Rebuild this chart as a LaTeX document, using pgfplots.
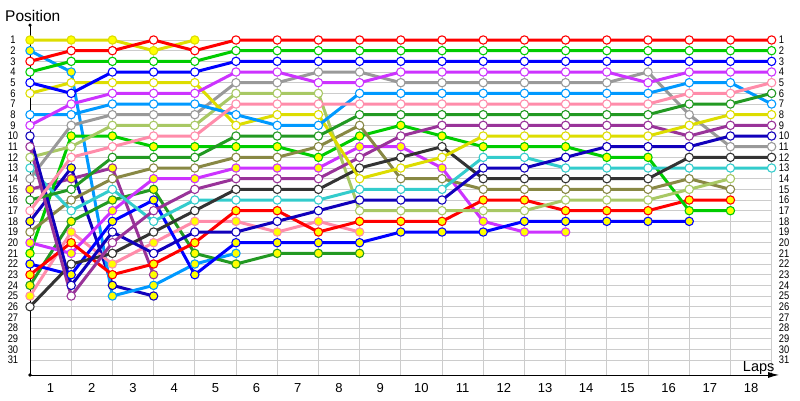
\documentclass[border=0pt]{standalone}
\usepackage{pgfplots}
\pgfplotsset{compat=1.18}
\usepackage{fontspec}
\setmainfont{Liberation Sans}
\newfontfamily\narrowfont[FakeStretch=0.85]{Liberation Sans}
\usetikzlibrary{arrows.meta}

\definecolor{cRed}{HTML}{FF0000}
\definecolor{cGreen}{HTML}{00CC00}
\definecolor{cBlue}{HTML}{0000FF}
\definecolor{cViolet}{HTML}{CC33FF}
\definecolor{cGray}{HTML}{999999}
\definecolor{cLGreen}{HTML}{A8C864}
\definecolor{cPink}{HTML}{FF8CAA}
\definecolor{cLBlue}{HTML}{0099FF}
\definecolor{cYellow}{HTML}{DDDD00}
\definecolor{cDGreen}{HTML}{229922}
\definecolor{cPurple}{HTML}{993399}
\definecolor{cOlive}{HTML}{888844}
\definecolor{cDGray}{HTML}{333333}
\definecolor{cCyan}{HTML}{33CCCC}
\definecolor{cDBlue}{HTML}{1100BB}
\definecolor{cGrid}{HTML}{CCCCCC}
\definecolor{cFill}{HTML}{FFFF00}

\pgfplotsset{
  drv/.style={color=#1, line width=3pt, line join=round, mark=*, mark size=4.2pt,
    mark options={line width=1.1pt, fill=white}},
  drvy/.style={color=#1, line width=3pt, line join=round, mark=*, mark size=4.2pt,
    mark options={line width=1.1pt, fill=cFill}},
}

\begin{document}
\begin{tikzpicture}
\begin{axis}[
  x=41.2pt, y=10.667pt, y dir=reverse,
  xmin=0, xmax=18.18, ymin=-0.4, ymax=32.4,
  axis line style={draw=none},
  major tick length=0pt,
  clip=false,
  ytick={1,...,31},
  /pgf/number format/assume math mode=true,
  yticklabel style={font=\narrowfont\fontsize{11}{11}\selectfont, anchor=center, xshift=-17pt},
  xtick={0.5,1.5,2.5,3.5,4.5,5.5,6.5,7.5,8.5,9.5,10.5,11.5,12.5,13.5,14.5,15.5,16.5,17.5},
  xticklabels={1,2,3,4,5,6,7,8,9,10,11,12,13,14,15,16,17,18},
  xticklabel style={font=\fontsize{13}{13}\selectfont, anchor=center, yshift=-13pt},
]
% grid
\pgfplotsinvokeforeach{1,...,31}{
  \draw[cGrid, line width=0.9pt] (axis cs:0,#1) -- (axis cs:18,#1);
  \node[anchor=west, inner sep=0pt, font=\narrowfont\fontsize{11}{11}\selectfont] at (axis cs:18.17,#1) {#1};
}
\pgfplotsinvokeforeach{1,...,18}{
  \draw[cGrid, line width=0.9pt] (axis cs:#1,1) -- (axis cs:#1,32.4);
}
% axes
\draw[black, line width=0.9pt] (axis cs:0,-0.4) -- (axis cs:0,32.4);
\draw[black, line width=0.9pt, -{Latex[length=11pt, width=6pt]}] (axis cs:0,32.4) -- (axis cs:18.18,32.4);
\fill[black] (axis cs:0,-0.4) circle (1.8pt);
\fill[black] (axis cs:0,32.4) circle (1.8pt);
\node[anchor=base west, inner sep=0pt, font=\fontsize{15.5}{15.5}\selectfont] at (axis cs:-0.607,-0.78) {Position};
\node[anchor=base west, inner sep=0pt, font=\fontsize{14.5}{14.5}\selectfont] at (axis cs:17.3,32.1) {Laps};

% drivers
\addplot[drvy=cPurple] coordinates {(0,15)(1,14)(2,13)(3,23)};
\addplot[drvy=cDBlue] coordinates {(0,18)(1,13)(2,24)(3,25)};
\addplot[drvy=cLBlue] coordinates {(0,2)(1,4)(2,25)(3,24)(4,22)(5,21)};
\addplot[drvy=cDGreen] coordinates {(0,24)(1,18)(2,16)(3,15)(4,21)(5,22)(6,21)(7,21)(8,21)};
\addplot[drvy=cPink] coordinates {(0,25)(1,19)(2,22)(3,20)(4,18)(5,18)(6,19)(7,18)(8,19)};
\addplot[drvy=cViolet] coordinates {(0,20)(1,21)(2,17)(3,14)(4,14)(5,13)(6,13)(7,13)(8,11)(9,11)(10,13)(11,18)(12,19)(13,19)};
\addplot[drvy=cBlue] coordinates {(0,22)(1,23)(2,18)(3,16)(4,23)(5,20)(6,20)(7,20)(8,20)(9,19)(10,19)(11,19)(12,18)(13,18)(14,18)(15,18)(16,18)};
\addplot[drvy=cRed] coordinates {(0,23)(1,20)(2,23)(3,22)(4,20)(5,17)(6,17)(7,19)(8,18)(9,18)(10,18)(11,16)(12,16)(13,17)(14,17)(15,17)(16,16)(17,16)};
\addplot[drvy=cGreen] coordinates {(0,21)(1,10)(2,10)(3,11)(4,11)(5,11)(6,11)(7,12)(8,10)(9,9)(10,10)(11,11)(12,11)(13,11)(14,12)(15,12)(16,17)(17,17)};
\addplot[drv=cOlive] coordinates {(0,19)(1,16)(2,14)(3,13)(4,13)(5,12)(6,12)(7,11)(8,9)(9,14)(10,14)(11,15)(12,15)(13,15)(14,15)(15,15)(16,14)(17,15)};
\addplot[drv=cLGreen] coordinates {(0,12)(1,11)(2,9)(3,9)(4,9)(5,6)(6,6)(7,6)(8,17)(9,17)(10,17)(11,17)(12,17)(13,16)(14,16)(15,16)(16,15)(17,14)};
\addplot[drv=cCyan] coordinates {(0,13)(1,17)(2,15)(3,18)(4,16)(5,16)(6,16)(7,16)(8,15)(9,15)(10,15)(11,12)(12,12)(13,13)(14,13)(15,13)(16,13)(17,13)(18,13)};
\addplot[drv=cDGray] coordinates {(0,26)(1,22)(2,21)(3,19)(4,17)(5,15)(6,15)(7,15)(8,13)(9,12)(10,11)(11,14)(12,14)(13,14)(14,14)(15,14)(16,12)(17,12)(18,12)};
\addplot[drv=cGray] coordinates {(0,14)(1,9)(2,8)(3,8)(4,8)(5,5)(6,5)(7,4)(8,4)(9,5)(10,5)(11,5)(12,5)(13,5)(14,5)(15,4)(16,8)(17,11)(18,11)};
\addplot[drv=cDBlue] coordinates {(0,10)(1,24)(2,19)(3,21)(4,19)(5,19)(6,18)(7,17)(8,16)(9,16)(10,16)(11,13)(12,13)(13,12)(14,11)(15,11)(16,11)(17,10)(18,10)};
\addplot[drv=cPurple] coordinates {(0,11)(1,25)(2,20)(3,17)(4,15)(5,14)(6,14)(7,14)(8,12)(9,10)(10,9)(11,9)(12,9)(13,9)(14,9)(15,9)(16,10)(17,9)(18,9)};
\addplot[drv=cYellow] coordinates {(0,6)(1,5)(2,5)(3,5)(4,5)(5,9)(6,8)(7,8)(8,14)(9,13)(10,12)(11,10)(12,10)(13,10)(14,10)(15,10)(16,9)(17,8)(18,8)};
\addplot[drv=cLBlue] coordinates {(0,8)(1,8)(2,7)(3,7)(4,7)(5,8)(6,9)(7,9)(8,6)(9,6)(10,6)(11,6)(12,6)(13,6)(14,6)(15,6)(16,5)(17,5)(18,7)};
\addplot[drv=cDGreen] coordinates {(0,16)(1,15)(2,12)(3,12)(4,12)(5,10)(6,10)(7,10)(8,8)(9,8)(10,8)(11,8)(12,8)(13,8)(14,8)(15,8)(16,7)(17,7)(18,6)};
\addplot[drv=cPink] coordinates {(0,17)(1,12)(2,11)(3,10)(4,10)(5,7)(6,7)(7,7)(8,7)(9,7)(10,7)(11,7)(12,7)(13,7)(14,7)(15,7)(16,6)(17,6)(18,5)};
\addplot[drv=cViolet] coordinates {(0,9)(1,7)(2,6)(3,6)(4,6)(5,4)(6,4)(7,5)(8,5)(9,4)(10,4)(11,4)(12,4)(13,4)(14,4)(15,5)(16,4)(17,4)(18,4)};
\addplot[drv=cBlue] coordinates {(0,5)(1,6)(2,4)(3,4)(4,4)(5,3)(6,3)(7,3)(8,3)(9,3)(10,3)(11,3)(12,3)(13,3)(14,3)(15,3)(16,3)(17,3)(18,3)};
\addplot[drv=cGreen] coordinates {(0,4)(1,3)(2,3)(3,3)(4,3)(5,2)(6,2)(7,2)(8,2)(9,2)(10,2)(11,2)(12,2)(13,2)(14,2)(15,2)(16,2)(17,2)(18,2)};
\addplot[drvy=cYellow] coordinates {(0,1)(1,1)(2,1)(3,2)(4,1)};
\addplot[drv=cRed] coordinates {(0,3)(1,2)(2,2)(3,1)(4,2)(5,1)(6,1)(7,1)(8,1)(9,1)(10,1)(11,1)(12,1)(13,1)(14,1)(15,1)(16,1)(17,1)(18,1)};

\coordinate (bbA) at (axis cs:-0.728,-2.75);
\coordinate (bbB) at (axis cs:18.689,34.75);
\end{axis}
\pgfresetboundingbox
\useasboundingbox (bbA) rectangle (bbB);
\end{tikzpicture}
\end{document}
